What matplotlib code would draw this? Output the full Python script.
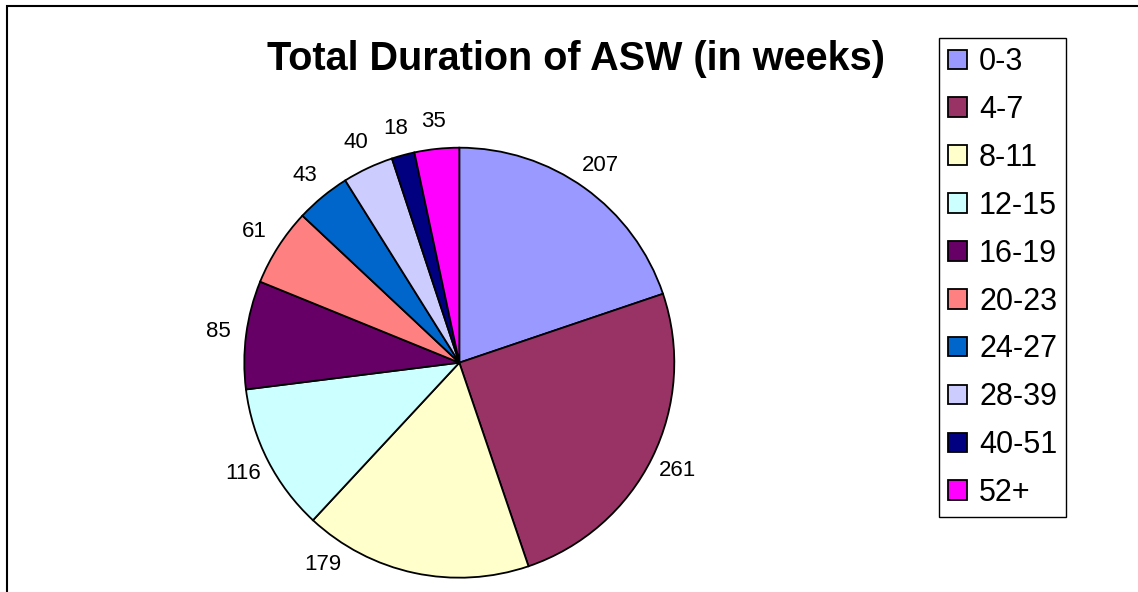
import numpy as np
import matplotlib.pyplot as plt
from matplotlib.patches import Rectangle

# Total duration of ASW, grouped in weeks
categories = ['0-3', '4-7', '8-11', '12-15', '16-19', '20-23', '24-27', '28-39', '40-51', '52+']
counts = [207, 261, 179, 116, 85, 61, 43, 40, 18, 35]
colors = ['#9999FF', '#993366', '#FFFFCC', '#CCFFFF', '#660066',
          '#FF8080', '#0066CC', '#CCCCFF', '#000080', '#FF00FF']

plt.rcParams['font.family'] = ['Liberation Sans', 'DejaVu Sans']

W, H = 1138, 592
fig = plt.figure(figsize=(W / 100, H / 100), dpi=100)

# pie centre and radius in pixels
cx, cy, R = 459.3, 362.7, 215
ax = fig.add_axes([(cx - R) / W, (H - cy - R) / H, 2 * R / W, 2 * R / H])
wedges, _ = ax.pie(counts, colors=colors, startangle=90, counterclock=False,
                   wedgeprops=dict(edgecolor='black', linewidth=1.3))
ax.set_xlim(-1, 1)
ax.set_ylim(-1, 1)

# value labels just outside the pie, kept ~20px above the bottom edge
label_dist = 1.13
floor = -(H - cy - 28) / R
for w, n in zip(wedges, counts):
    mid = np.deg2rad((w.theta1 + w.theta2) / 2)
    x, y = label_dist * np.cos(mid), label_dist * np.sin(mid)
    if y < floor:
        s = np.arcsin(floor / label_dist)
        ang = -np.pi - s if x < 0 else s
        x, y = label_dist * np.cos(ang), label_dist * np.sin(ang)
    ax.text(x, y, str(n), ha='center', va='center', fontsize=16)

fig.text(576 / W, 1 - 70 / H, 'Total Duration of ASW (in weeks)', ha='center',
         va='baseline', fontsize=28.5, fontweight='bold')

leg = fig.legend(wedges, categories, loc='upper left',
                 bbox_to_anchor=(939 / W, 1 - 38 / H), bbox_transform=fig.transFigure,
                 borderaxespad=0, fontsize=22, frameon=True, fancybox=False,
                 edgecolor='black', framealpha=1, handlelength=0.61, handleheight=0.61,
                 handletextpad=0.4, borderpad=0.3, labelspacing=0.585)
leg.get_frame().set_linewidth(1.0)

# chart area border (cut off on the right and bottom)
fig.add_artist(Rectangle((7 / W, -0.05), 1.1, 1.05 - 5.5 / H, transform=fig.transFigure,
                         fill=False, edgecolor='black', linewidth=1.5))

fig.savefig('out.png', dpi=100)
